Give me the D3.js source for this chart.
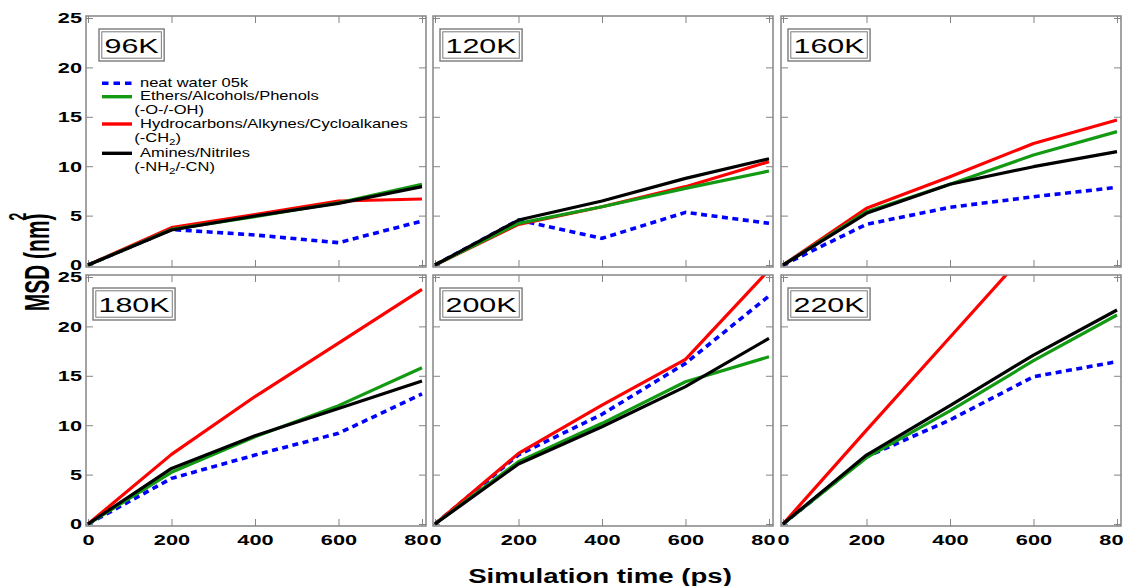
<!DOCTYPE html>
<html><head><meta charset="utf-8">
<script src="https://cdn.jsdelivr.net/npm/d3@7"></script>
<style>body{margin:0;background:#fff;} svg{display:block;}</style>
</head><body><svg id="chart" width="1127" height="586"></svg>
<script>
// ---------------- data ----------------
const times = [0, 200, 400, 600, 800];
const panelLabels = ["96K", "120K", "160K", "180K", "200K", "220K"];
const seriesNames = ["neat water 05k", "Ethers/Alcohols/Phenols", "Hydrocarbons/Alkynes/Cycloalkanes", "Amines/Nitriles"];
const seriesSubs = ["", "(-O-/-OH)", "(-CH₂)", "(-NH₂/-CN)"];
const seriesColors = ["#0000ff", "#139a13", "#ff0000", "#000000"];
const waterMSD  = [[0,3.6,3.04,2.26,4.45],[0,4.55,2.7,5.33,4.22],[0,4.12,5.84,6.91,7.86],[0,4.62,6.98,9.18,13.16],[0,7.0,11.1,16.26,23.08],[0,6.8,10.53,14.91,16.43]];
const ethersMSD = [[0,3.6,4.9,6.3,8.17],[0,4.22,5.9,7.76,9.51],[0,5.4,8.17,11.13,13.5],[0,5.23,8.84,11.98,15.82],[0,6.3,10.19,14.4,16.93],[0,6.71,11.44,16.53,21.15]];
const hydroMSD  = [[0,3.78,5.1,6.48,6.68],[0,4.12,5.9,7.93,10.46],[0,5.74,8.94,12.3,14.68],[0,7.05,12.9,18.3,23.75],[0,7.15,12.04,16.67,25.7],[0,9.5,18.9,28.3,37.7]];
const aminesMSD = [[0,3.54,4.96,6.24,7.93],[0,4.55,6.48,8.77,10.76],[0,5.23,8.17,9.95,11.47],[0,5.63,8.94,11.7,14.47],[0,6.07,9.85,13.9,18.79],[0,6.98,11.98,17.1,21.66]];
const xTicks = [0, 200, 400, 600, 800];
const yTicks = [0, 5, 10, 15, 20, 25];
const xTitle = "Simulation time (ps)";
const yTitle = "MSD (nm";

const seriesData = [waterMSD, ethersMSD, hydroMSD, aminesMSD];
const drawOrder = [0, 2, 1, 3];

// ---------------- layout ----------------
const svg = d3.select("#chart");
const FONT = "'Liberation Sans', Arial, Helvetica, sans-serif";
const SX = 1.45;
const panelLeft = [86, 433, 781];
const panelTop = [16, 275];
const pw = 340, ph = 251;
const frameCol = "#858585";

const x = d3.scaleLinear().domain([-4.8, 809.6]).range([0, pw]);
const y = d3.scaleLinear().domain([-0.2, 25.2]).range([ph, 0]);

const line = d3.line().x((d, i) => x(times[i])).y(d => y(d));

function addSubText(sel, str, fs) {
  const parts = str.split("₂");
  parts.forEach((p, i) => {
    if (i > 0) {
      sel.append("tspan").attr("font-size", fs * 0.7).attr("dy", 3).text("2");
      sel.append("tspan").attr("dy", -3).text(p);
    } else sel.append("tspan").text(p);
  });
}

panelLabels.forEach((lab, k) => {
  const col = k % 3, row = Math.floor(k / 3);
  const g = svg.append("g").attr("transform", `translate(${panelLeft[col]},${panelTop[row]})`);
  const defs = g.append("defs");
  defs.append("clipPath").attr("id", "clip" + k).append("rect").attr("x", 0).attr("y", 0).attr("width", pw).attr("height", ph);
  defs.append("clipPath").attr("id", "lclip" + k).append("rect").attr("x", -25).attr("y", -12).attr("width", pw + 27).attr("height", 60);

  g.append("rect").attr("width", pw).attr("height", ph).attr("fill", "#fff");

  // ticks (inward on all four sides)
  const styleAxis = a => { a.select(".domain").remove(); a.selectAll(".tick line").attr("stroke", frameCol).attr("stroke-width", 1); };
  g.append("g").attr("transform", `translate(0,0)`).call(d3.axisTop(x).tickValues(xTicks).tickSize(-7).tickFormat("")).call(styleAxis);
  g.append("g").attr("transform", `translate(${pw},0)`).call(d3.axisRight(y).tickValues(yTicks).tickSize(-7).tickFormat("")).call(styleAxis);

  const left = g.append("g").call(d3.axisLeft(y).tickValues(yTicks).tickSize(-7).tickPadding(4 / SX).tickFormat(col === 0 ? d3.format("d") : "")).call(styleAxis);
  left.selectAll("text").attr("transform", `scale(${SX},1)`).attr("font-family", FONT).attr("font-weight", "bold").attr("font-size", 15).attr("fill", "#000");

  const bottom = g.append("g").attr("transform", `translate(0,${ph})`)
    .call(d3.axisBottom(x).tickValues(xTicks).tickSize(-7).tickPadding(8.4).tickFormat(row === 1 ? d3.format("d") : "")).call(styleAxis);
  bottom.attr("clip-path", `url(#lclip${k})`);
  bottom.selectAll("text").attr("transform", `scale(${SX},1)`).attr("font-family", FONT).attr("font-weight", "bold").attr("font-size", 15).attr("fill", "#000");

  // data lines
  const lg = g.append("g").attr("clip-path", `url(#clip${k})`);
  drawOrder.forEach(s => {
    const p = lg.append("path").datum(seriesData[s][k]).attr("d", line)
      .attr("fill", "none").attr("stroke", seriesColors[s]).attr("stroke-width", s === 0 ? 3.6 : 3.2)
      .attr("stroke-linejoin", "round");
    if (s === 0) p.attr("stroke-dasharray", "6,4.5");
  });

  // frame
  g.append("rect").attr("width", pw).attr("height", ph).attr("fill", "none").attr("stroke", frameCol).attr("stroke-width", 1.5);

  // panel label box
  const bx = k === 0 ? 13 : 7, by = 13;
  const bgrp = g.append("g").attr("transform", `translate(${bx},${by})`);
  const outer = bgrp.append("rect").attr("fill", "#fff").attr("stroke", "#7a7a7a").attr("stroke-width", 1.4).attr("height", 32);
  const inner = bgrp.append("rect").attr("fill", "none").attr("stroke", "#7a7a7a").attr("stroke-width", 1).attr("x", 2.8).attr("y", 2.8).attr("height", 26.4);
  const t = bgrp.append("text").attr("transform", `translate(5.5,24) scale(${SX},1)`)
    .attr("font-family", FONT).attr("font-size", 21).attr("fill", "#000").text(lab);
  const tw = t.node().getComputedTextLength() * SX + 11;
  outer.attr("width", tw);
  inner.attr("width", tw - 5.6);

  // legend in first panel
  if (k === 0) {
    const lineY = [67.3, 80.7, 108, 137.3];
    const textY = [71.3, 84, 111.7, 141.3];
    const subY = [0, 98, 125.7, 154.7];
    const LS = 1.27;
    seriesNames.forEach((nm, s) => {
      const ll = g.append("line").attr("x1", 16).attr("x2", 46).attr("y1", lineY[s]).attr("y2", lineY[s])
        .attr("stroke", seriesColors[s]).attr("stroke-width", 3.4);
      if (s === 0) ll.attr("stroke-dasharray", "6.5,5");
      g.append("text").attr("transform", `translate(54,${textY[s]}) scale(${LS},1)`)
        .attr("font-family", FONT).attr("font-size", 13).attr("fill", "#000").text(nm);
      if (seriesSubs[s]) {
        const st = g.append("text").attr("transform", `translate(48.3,${subY[s]}) scale(${LS},1)`)
          .attr("font-family", FONT).attr("font-size", 13).attr("fill", "#000");
        addSubText(st, seriesSubs[s], 13);
      }
    });
  }
});

// axis titles
svg.append("text").attr("transform", `translate(600,583) scale(1.38,1)`)
  .attr("text-anchor", "middle").attr("font-family", FONT).attr("font-weight", "bold").attr("font-size", 20).attr("fill", "#000")
  .text(xTitle);
const yt = svg.append("text").attr("transform", `translate(49,262) rotate(-90) scale(1,1.65)`)
  .attr("text-anchor", "middle").attr("font-family", FONT).attr("font-weight", "bold").attr("font-size", 21).attr("fill", "#000");
yt.append("tspan").text(yTitle);
yt.append("tspan").attr("font-size", 14).attr("dy", -14).text("2");
yt.append("tspan").attr("dx", -7.8).attr("dy", 14).text(")");
</script></body></html>
